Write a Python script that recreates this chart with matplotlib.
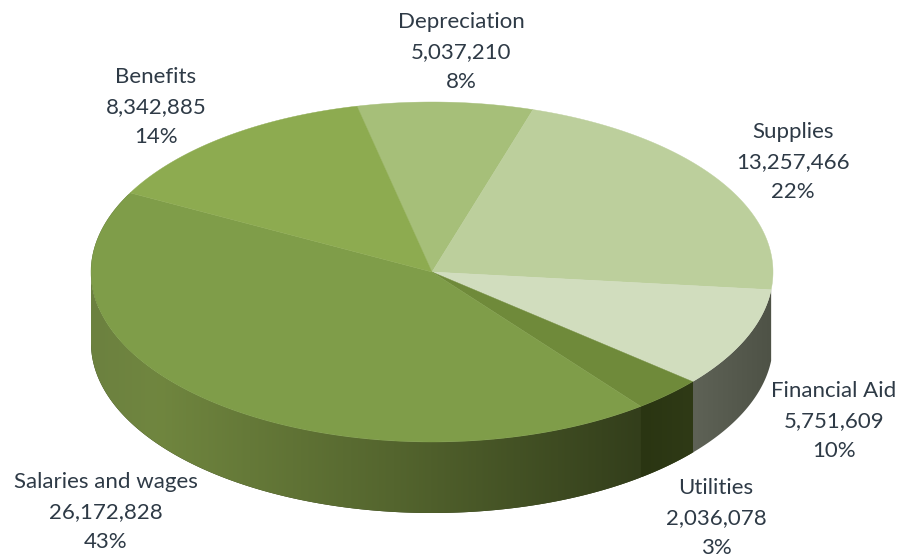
import numpy as np
import matplotlib
matplotlib.use('Agg')
import matplotlib.pyplot as plt
from matplotlib.colors import LinearSegmentedColormap
from matplotlib.patches import Polygon

categories = ['Depreciation', 'Supplies', 'Financial Aid', 'Utilities', 'Salaries and wages', 'Benefits']
values = [5037210, 13257466, 5751609, 2036078, 26172828, 8342885]
percents = ['8%', '22%', '10%', '3%', '43%', '14%']

top_colors = ['#a6bf79', '#bccf9c', '#d1ddbe', '#6f8a3a', '#7f9d49', '#8dab50']
# side wall shades from left to right of each visible slice
wall_colors = {
    'Financial Aid': [(0, '#5e6256'), (1, '#4e5246')],
    'Utilities': [(0, '#2a3512'), (1, '#2f3a16')],
    'Salaries and wages': [(0, '#6c8140'), (0.12, '#70863f'), (0.55, '#54652e'), (1, '#333e1b')],
}
label_pos = [(461, 52), (793, 162), (834, 421), (716, 518), (106, 512), (156, 107)]

cx, cy = 432, 272
rx, ry = 341, 170
depth = 71
start = -12.7
text_color = '#2e3a46'


def rim(theta):
    t = np.radians(theta)
    return cx + rx * np.sin(t), cy - ry * np.cos(t)


fig = plt.figure(figsize=(9.01, 5.57), dpi=100)
ax = fig.add_axes([0, 0, 1, 1])
ax.axis('off')

edges = start + np.concatenate([[0], np.cumsum(values)]) / sum(values) * 360

# dark backing so the gradient pieces leave no seam
xs, ys = rim(np.linspace(edges[3] - 0.3, edges[5] - 0.5, 300))
ax.fill(np.r_[xs, xs[::-1]], np.r_[ys, ys[::-1] + depth], color='#2f3a16', lw=0, zorder=-1)

# walls, a horizontal gradient clipped to each slice's side
for i, name in enumerate(categories):
    if name not in wall_colors:
        continue
    a0, a1 = edges[i], min(edges[i + 1], 270)
    xs, ys = rim(np.linspace(a0, a1, 200))
    outline = np.c_[np.r_[xs, xs[::-1]], np.r_[ys, ys[::-1] + depth]]
    patch = Polygon(outline, closed=True, transform=ax.transData, fc='none', ec='none')
    ax.add_patch(patch)
    cmap = LinearSegmentedColormap.from_list(name, wall_colors[name])
    grad = np.linspace(0, 1, 256).reshape(1, -1)
    im = ax.imshow(grad, cmap=cmap, aspect='auto', zorder=0,
                   extent=(xs.min(), xs.max(), ys.max() + depth, ys.min()))
    im.set_clip_path(patch)

# top faces
for i in range(len(values)):
    steps = np.linspace(edges[i], edges[i + 1], 120)
    xs, ys = rim(steps)
    ax.fill(np.r_[cx, xs], np.r_[cy, ys], color=top_colors[i], lw=0.3, zorder=1)

ax.set_xlim(0, 901)
ax.set_ylim(557, 0)

for name, val, pct, (x, y) in zip(categories, values, percents, label_pos):
    ax.text(x, y, f'{name}\n{val:,}\n{pct}', ha='center', va='center', family='Lato',
            fontsize=16, color=text_color, linespacing=1.63)

fig.savefig('out.png', dpi=100)
